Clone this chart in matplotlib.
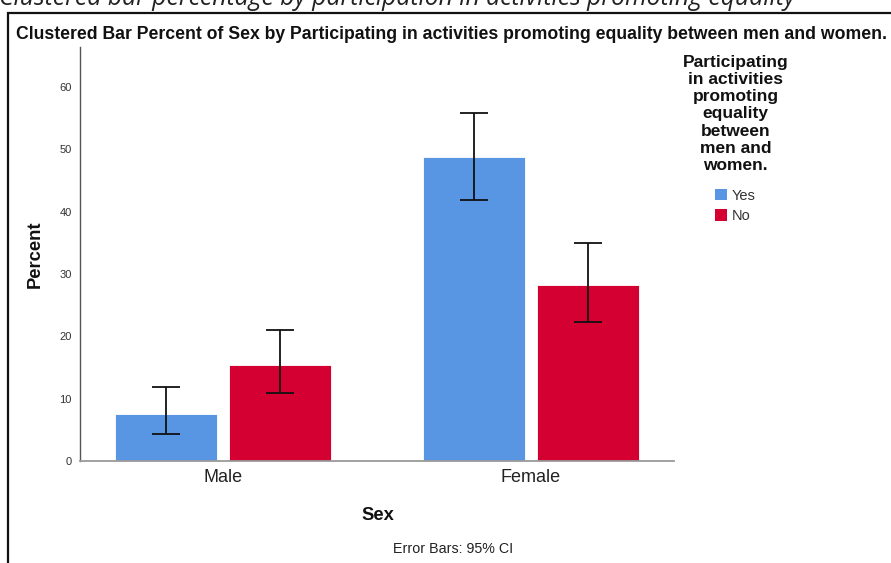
import matplotlib
matplotlib.use("Agg")
import matplotlib.pyplot as plt
from matplotlib.patches import Rectangle, Patch
import numpy as np

# Data: percent of each sex by participation, with 95% CI bounds
sexes = ["Male", "Female"]
groups = ["Yes", "No"]
percent_yes = [7.5, 48.7]
percent_no = [15.4, 28.3]
ci_low_yes = [4.4, 41.9]
ci_high_yes = [11.8, 55.8]
ci_low_no = [10.9, 22.3]
ci_high_no = [21.0, 35.0]
y_ticks = [0, 10, 20, 30, 40, 50, 60]

colors = {"Yes": "#5895E3", "No": "#D50032"}
font = "Liberation Sans"

W, H = 891, 563
fig = plt.figure(figsize=(W / 100, H / 100), dpi=100)
fig.patch.set_facecolor("white")

def fx(px):
    return px / W

def fy(py):
    return 1 - py / H

# Caption above the framed chart
fig.text(fx(-1), fy(5), "Clustered bar percentage by participation in activities promoting equality",
         family="Open Sans", style="italic", fontsize=17.8, color="#222222",
         ha="left", va="baseline")

# Frame around the chart
fig.patches.append(Rectangle((fx(8), fy(580)), fx(900), fy(13) - fy(580),
                             transform=fig.transFigure, fill=False,
                             edgecolor="#111111", lw=1.6, zorder=0))

ax = fig.add_axes([fx(80), fy(461), fx(674) - fx(80), fy(47) - fy(461)])

x = np.arange(len(sexes))
width = 0.331
offset = 0.185
series = [
    ("Yes", percent_yes, ci_low_yes, ci_high_yes, -offset),
    ("No", percent_no, ci_low_no, ci_high_no, offset),
]
for name, vals, lo, hi, off in series:
    vals = np.array(vals)
    err = np.vstack([vals - np.array(lo), np.array(hi) - vals])
    ax.bar(x + off, vals, width=width, color=colors[name], edgecolor="white",
           linewidth=0.6, zorder=2)
    ax.errorbar(x + off, vals, yerr=err, fmt="none", ecolor="#111111",
                elinewidth=1.3, capsize=10, capthick=1.3, zorder=3)

ax.set_xlim(-0.464, 1.464)
ax.set_ylim(0, 66.4)
ax.set_yticks(y_ticks)
ax.set_yticklabels([str(t) for t in y_ticks], family=font, fontsize=8, color="#333333")
ax.set_xticks(x)
ax.set_xticklabels(sexes, family=font, fontsize=13, color="#222222")
ax.tick_params(axis="both", length=0)
ax.tick_params(axis="y", pad=6)
ax.tick_params(axis="x", pad=6)
for side in ("top", "right"):
    ax.spines[side].set_visible(False)
ax.spines["left"].set_color("#555555")
ax.spines["left"].set_linewidth(1.0)
ax.spines["bottom"].set_color("#9a9a9a")
ax.spines["bottom"].set_linewidth(1.3)

fig.text(fx(35), fy(254), "Percent", rotation=90, family=font, fontsize=13.2,
         fontweight="bold", ha="center", va="center", color="#111111")
fig.text(fx(378), fy(515), "Sex", family=font, fontsize=13.2, fontweight="bold",
         ha="center", va="center", color="#111111")
fig.text(fx(453), fy(549), "Error Bars: 95% CI", family=font, fontsize=10.3,
         ha="center", va="center", color="#222222")

fig.text(fx(452), fy(32.5),
         "Clustered Bar Percent of Sex by Participating in activities promoting equality between men and women.",
         family=font, fontsize=12.7, fontweight="bold", ha="center", va="center_baseline",
         color="#111111")

# Legend title and entries
fig.text(fx(735.5), fy(55),
         "Participating\nin activities\npromoting\nequality\nbetween\nmen and\nwomen.",
         family=font, fontsize=12.5, fontweight="bold", ha="center", va="top",
         multialignment="center", linespacing=1.18, color="#111111")
handles = [Patch(facecolor=colors[g], edgecolor="none") for g in groups]
fig.legend(handles, groups, loc="upper left", bbox_to_anchor=(fx(715), fy(188.5)),
           frameon=False, prop={"family": font, "size": 10.5},
           handlelength=0.82, handleheight=0.82, handletextpad=0.3,
           labelspacing=0.45, borderpad=0, borderaxespad=0, labelcolor="#333333")

fig.savefig("out.png", dpi=100, facecolor="white")
